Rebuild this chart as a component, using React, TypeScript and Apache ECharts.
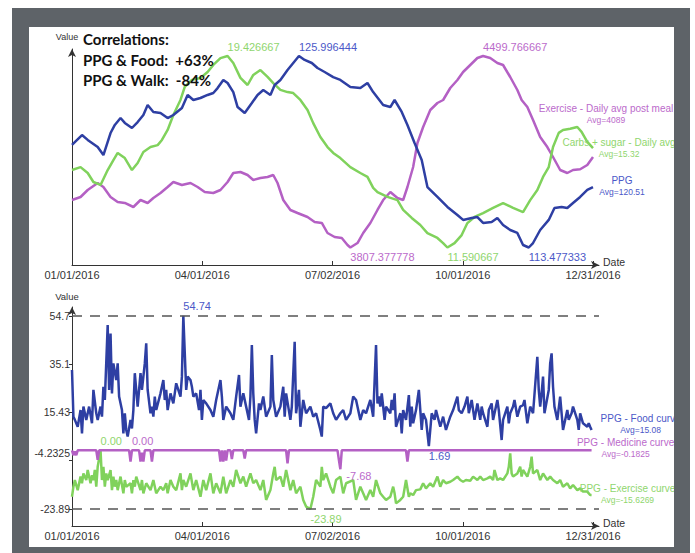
import React, { useEffect, useRef } from "react";
import * as echarts from "echarts";

// ---------- shared axis ticks ----------
const dateTickDays = [0, 91.25, 182.5, 273.75, 365];
const dateTickLabels = ["01/01/2016", "04/01/2016", "07/02/2016", "10/01/2016", "12/31/2016"];

const correlationLines = ["Correlations:", "PPG & Food:  +63%", "PPG & Walk:  -84%"];

// ---------- top chart: daily averages (day offset from 01/01/2016) ----------
const ppgDays = [0,7,11,18,22,27,30,34,37,42,46,50,53,57,62,67,71,77,81,85,90,95,99,102,106,109,113,116,121,126,130,134,139,142,146,151,155,159,163,168,172,177,183,188,195,202,207,211,218,223,226,231,235,240,245,249,256,263,270,274,280,284,288,294,298,302,307,312,316,320,323,328,334,338,343,347,351,356,361,365];
const ppgValues = [120.18,120.83,120.51,120.05,119.52,120.96,121.49,121.94,121.62,121.29,121.68,122.14,122.79,122.34,122.27,121.94,122.14,122.60,123.45,123.12,123.25,123.45,123.58,123.90,124.43,124.23,123.64,122.66,122.27,122.92,123.45,123.77,123.45,124.10,124.43,125.08,125.54,125.996444,125.74,125.54,125.21,124.95,124.62,124.43,123.97,123.90,124.23,123.64,122.79,122.66,123.12,122.34,121.49,120.31,119.20,117.43,116.78,116.13,115.60,115.28,115.41,115.47,115.08,115.15,115.41,114.95,114.62,114.43,113.64,113.477333,113.77,114.62,115.28,116.06,116.13,116.06,116.39,116.78,117.24,117.43];

const carbDays = [0,6,11,15,20,25,29,32,37,42,46,50,55,60,63,67,71,76,79,84,90,95,99,104,109,113,118,123,127,132,137,141,146,151,155,160,165,169,174,179,183,188,195,202,207,211,214,221,228,232,238,244,249,256,260,263,268,273,277,282,288,295,302,309,316,321,326,330,334,337,341,344,349,354,357,361,365];
const carbValues = [14.76,14.88,14.64,14.27,14.15,14.76,15.17,15.46,15.25,14.76,15.05,15.50,15.70,15.78,15.99,16.40,17.01,17.63,18.16,18.45,18.53,18.77,19.06,19.34,19.426667,19.14,18.53,18.24,18.65,18.85,18.57,18.32,18.04,17.95,17.91,17.63,17.22,16.68,16.11,15.70,15.46,15.25,14.88,14.64,14.48,14.03,13.86,13.66,13.53,13.13,12.80,12.51,12.18,11.98,11.77,11.590667,11.77,12.10,12.59,12.84,13.00,13.21,13.41,13.21,13.04,13.53,13.94,14.48,14.88,15.70,16.28,16.40,16.45,16.52,16.32,15.91,15.66];

const walkDays = [0,6,11,18,22,27,32,37,43,48,53,57,62,67,71,77,83,88,93,99,104,109,113,118,123,127,132,137,141,144,148,153,158,165,170,175,179,184,189,193,195,200,204,209,214,218,223,228,232,235,239,242,246,251,256,260,265,270,274,279,284,288,293,298,302,307,312,315,319,323,328,333,337,342,347,351,356,361,365];
const walkValues = [3979.1,3990.0,4015.3,4040.6,4026.1,3990.0,3971.9,3968.3,3953.8,3979.1,3968.3,3986.3,4004.4,4026.1,4044.2,4033.3,4040.6,4026.1,4008.0,4004.4,4015.3,4044.2,4076.7,4080.4,4069.5,4051.4,4058.7,4062.3,4069.5,4040.6,3979.1,3943.0,3932.1,3917.6,3899.6,3896.0,3859.8,3845.3,3841.7,3816.4,3807.377778,3823.6,3859.8,3896.0,3943.0,3979.1,4008.0,3986.3,3979.1,4026.1,4098.4,4185.2,4243.1,4304.5,4329.8,4340.7,4384.1,4413.0,4441.9,4467.2,4492.5,4499.766667,4492.5,4474.5,4467.2,4423.8,4376.8,4340.7,4315.4,4268.4,4206.9,4170.7,4134.6,4087.6,4076.7,4087.6,4090.2,4105.7,4134.6];

const topNames = ["PPG", "Carbs + sugar - Daily avg", "Exercise - Daily avg post meal"];
const topAvgs = ["Avg=120.51", "Avg=15.32", "Avg=4089"];

// ---------- bottom chart: curves ----------
const foodDays = [0,1,2,4,6,7,8,10,12,14,15,17,18,20,21,22,23,25,26,27,28,29,31,32,33,35,36,37,38,39,41,42,43,44,45,46,48,49,50,51,52,53,55,56,57,58,59,62,64,65,66,67,69,71,73,76,77,78,80,81,83,84,85,87,89,90,91,92,94,97,99,101,104,105,106,108,111,113,115,117,118,120,122,124,125,126,127,128,129,131,132,134,136,139,140,141,143,146,148,149,150,153,154,156,157,159,160,162,164,167,169,171,174,175,176,178,181,183,185,188,190,192,195,197,199,202,204,206,209,211,213,214,215,216,217,219,220,223,224,225,226,227,230,231,232,234,236,237,238,239,241,243,245,246,248,250,252,254,255,258,260,262,265,267,270,271,273,275,277,278,280,282,284,286,287,288,291,292,294,295,298,299,301,302,305,306,307,309,310,312,314,316,317,319,321,323,326,327,328,329,330,331,334,335,336,337,338,340,342,343,344,347,348,350,351,354,355,356,358,361,362,363,364];
const foodValues = [32.7,13.7,12.4,9.6,16.4,6.9,17.8,12.4,17.8,11.0,24.6,15.1,12.4,17.8,13.7,25.9,20.5,51.0,24.6,47.6,23.2,35.4,28.6,35.4,21.9,16.4,6.9,15.1,8.3,5.6,12.4,8.9,16.4,31.4,24.6,17.8,31.4,24.6,30.0,35.4,43.6,24.6,15.1,17.8,13.7,21.9,16.4,23.2,28.6,20.5,24.6,16.4,23.2,19.1,27.3,21.9,30.0,54.74,24.6,30.0,28.6,25.9,21.9,23.2,16.4,24.6,12.4,20.5,19.1,16.4,13.7,20.5,28.6,21.9,12.4,17.8,15.1,12.4,21.9,30.7,17.8,23.2,17.8,12.4,21.9,42.9,23.2,12.4,6.9,19.1,16.4,21.9,13.7,17.8,38.8,20.5,13.7,17.8,25.9,13.7,23.2,12.4,17.8,44.2,15.1,24.6,9.6,20.5,15.1,17.8,13.7,15.1,8.3,5.6,17.8,17.2,19.1,15.1,12.4,15.1,16.4,12.4,15.1,21.9,20.5,12.4,16.4,15.1,20.5,13.7,42.9,19.1,21.9,17.8,23.2,12.4,17.8,15.1,20.5,16.4,23.2,9.6,15.1,6.9,16.4,12.4,22.5,9.6,17.8,11.0,16.4,24.6,8.3,15.1,12.4,1.69,15.1,12.4,16.4,9.6,13.7,8.3,13.7,16.4,21.9,16.4,15.1,17.8,21.9,15.1,20.5,12.4,19.1,12.4,17.8,15.1,9.6,16.4,19.1,12.4,20.5,16.4,4.2,12.4,17.8,11.0,15.1,17.8,20.5,13.7,17.8,18.4,20.5,11.0,17.8,15.1,38.1,24.6,17.8,23.2,30.0,15.1,24.6,35.4,39.5,25.9,17.8,12.4,21.9,15.1,8.3,16.4,12.4,15.1,17.8,12.4,8.3,15.1,11.0,9.6,11.0,9.6,8.3];

const medDays = [0,1,2,3,4,17,18,19,40,41,42,47,48,49,50,51,55,56,57,103,104,105,106,107,108,109,111,112,113,120,121,122,150,151,152,186,187,188,189,234,235,236,364];
const medValues = [0,-2.0,-0.5,-2.0,0,0,-3.9,0,0,-4.6,0,0,-4.6,-1.0,-4.6,0,0,-4.6,0,0,-4.6,0,-4.6,0,-4.2,0,0,-3.5,0,0,-3.3,0,0,-5.3,0,0,-4.0,-7.68,0,0,-4.6,0,0];

const exDays = [0,1,2,4,6,7,8,10,11,13,14,15,16,17,18,20,21,22,23,24,25,27,28,29,30,31,32,34,36,37,38,41,42,43,44,45,48,49,50,52,55,57,59,62,64,66,67,69,71,73,76,77,78,80,83,85,87,90,92,94,97,99,101,104,106,108,111,113,115,118,120,122,125,127,129,132,134,136,139,141,142,143,146,148,150,153,155,157,160,162,164,167,169,171,174,175,176,178,181,183,185,188,190,192,197,199,202,204,206,209,211,213,216,218,220,223,225,226,227,230,232,234,236,237,239,241,244,246,248,251,253,256,258,260,262,265,267,270,272,274,276,279,281,284,286,288,291,293,295,296,298,300,302,305,306,307,308,309,312,314,315,316,319,321,322,323,326,328,330,333,335,337,340,342,344,347,349,351,354,356,358,361,363,364];
const exValues = [-18.9,-14.8,-12.1,-16.2,-10.7,-13.4,-9.4,-12.1,-8.0,-13.4,-10.1,-12.1,-8.0,-14.8,-6.7,0,-12.1,-6.7,-14.8,-9.4,-12.1,-8.0,-16.2,-10.7,-14.8,-12.1,-16.2,-10.7,-17.5,-12.1,-14.8,-13.4,-17.5,-12.1,-14.8,-10.7,-16.2,-12.1,-17.5,-13.4,-16.2,-12.1,-17.5,-14.8,-16.2,-13.4,-17.5,-12.1,-14.8,-16.2,-9.4,-16.2,-12.1,-14.8,-9.4,-16.2,-12.1,-18.9,-12.1,-16.2,-9.4,-17.5,-13.4,-17.5,-10.7,-17.5,-12.1,-14.8,-8.0,-13.4,-10.7,-14.8,-9.4,-13.4,-12.1,-16.2,-12.1,-20.2,-16.2,-9.4,-6.7,-12.1,-10.7,-14.8,-8.0,-16.2,-12.1,-17.5,-14.8,-20.2,-22.9,-23.89,-18.9,-12.1,-14.8,-6.7,-12.1,-9.4,-14.8,-17.5,-12.1,-10.7,-17.5,-13.4,-12.1,-20.2,-14.8,-17.5,-20.2,-16.2,-18.9,-12.1,-17.5,-18.9,-20.2,-18.9,-14.8,-17.5,-21.6,-20.2,-18.9,-12.1,-18.9,-17.5,-18.2,-16.2,-15.9,-13.4,-15.5,-13.4,-14.8,-10.7,-14.8,-12.1,-13.4,-12.8,-12.1,-10.7,-12.1,-12.8,-12.1,-12.4,-10.7,-12.1,-10.7,-12.1,-11.4,-10.7,-12.1,-8.0,-12.1,-11.4,-12.1,-9.4,-6.7,-1.2,-9.4,-10.7,-9.4,-6.7,-10.7,-8.0,-10.7,-6.7,-2.6,-9.4,-8.0,-12.1,-9.4,-12.1,-10.7,-12.1,-13.4,-12.1,-14.8,-13.4,-15.5,-14.1,-16.2,-15.5,-16.8,-16.8,-18.2,-18.2];

const bottomNames = ["PPG - Food curve", "PPG - Medicine curve", "PPG - Exercise curve"];
const bottomAvgs = ["Avg=15.08", "Avg=-0.1825", "Avg=-15.6269"];
const valueTicks = [54.7, 35.1, 15.43, -4.2325, -23.89];

// ---------- styling ----------
const FONT = "Liberation Sans";
const BLUE = "#2e3fa3";
const PURPLE = "#b460c4";
const GREEN = "#80d25c";
const BLUE_TXT = "#4b58c8";
const PURPLE_TXT = "#bb6acb";
const GREEN_TXT = "#8fd66e";
const FRAME = "#5e6368";

const zip = (d: number[], v: number[]) => d.map((x, i) => [x, v[i]]);

// map series extremes to the same pixel band of the top grid (216px tall)
function fitAxis(vals: number[]) {
  const lo = Math.min(...vals);
  const hi = Math.max(...vals);
  const pp = (hi - lo) / 191.5;
  return { min: lo - 17.5 * pp, max: lo + 198.5 * pp };
}

const xMax = (365 * 527) / 521;

function dateAxis(gridIndex: number) {
  return {
    type: "value",
    gridIndex,
    min: 0,
    max: xMax,
    name: "{d|Date}",
    nameLocation: "end",
    nameGap: 4,
    nameMoveOverlap: false,
    nameTextStyle: {
      fontSize: 10.5,
      color: "#333",
      fontFamily: FONT,
      rich: { d: { fontSize: 10.5, color: "#333", fontFamily: FONT, padding: [0, 0, 7, 0] } },
    },
    axisLine: {
      show: true,
      onZero: false,
      symbol: ["none", "arrow"],
      symbolSize: [6, 8],
      lineStyle: { color: "#333", width: 1 },
    },
    axisTick: {
      show: true,
      inside: true,
      length: 4,
      customValues: dateTickDays,
      lineStyle: { color: "#333" },
    },
    axisLabel: {
      customValues: dateTickDays,
      formatter: (v: number) => dateTickLabels[Math.round(v / 91.25)],
      fontSize: 11,
      color: "#333",
      fontFamily: FONT,
      margin: 4,
    },
    splitLine: { show: false },
  };
}

function endLabel(name: string, avg: string, color: string, offset: number[]) {
  return {
    show: true,
    distance: 5,
    align: "center",
    offset,
    formatter: `{a|${name}}\n{b|${avg}}`,
    rich: {
      a: { fontSize: 10, color, fontFamily: FONT, lineHeight: 12, align: "center" },
      b: { fontSize: 8.5, color, fontFamily: FONT, lineHeight: 11, align: "center" },
    },
  };
}

function markPoints(color: string, fmt: (v: number) => string, items: any[]) {
  return {
    symbol: "circle",
    symbolSize: 2,
    itemStyle: { color: "rgba(0,0,0,0)" },
    label: {
      show: true,
      fontSize: 11,
      color,
      fontFamily: FONT,
      align: "left",
      distance: 3,
      formatter: (p: any) => fmt(Number(p.value)),
    },
    data: items,
  };
}

const rawFmt = (v: number) => String(v);
const fix2 = (v: number) => v.toFixed(2);

export default function App() {
  const ref = useRef<HTMLDivElement>(null);

  useEffect(() => {
    if (!ref.current) return;
    const chart = echarts.init(ref.current, null, { renderer: "svg" });

    const ppgAxis = fitAxis(ppgValues);
    const carbAxis = fitAxis(carbValues);
    const walkAxis = fitAxis(walkValues);

    const option: any = {
      animation: false,
      backgroundColor: "#ffffff",
      textStyle: { fontFamily: FONT },
      grid: [
        { left: 72, top: 49, width: 527, height: 216 },
        { left: 72, top: 307, width: 527, height: 219 },
      ],
      xAxis: [dateAxis(0), dateAxis(1)],
      yAxis: [
        {
          type: "value",
          gridIndex: 0,
          position: "left",
          min: ppgAxis.min,
          max: ppgAxis.max,
          name: "Value",
          nameLocation: "end",
          nameGap: 8,
          nameTextStyle: { fontSize: 9, color: "#333", fontFamily: FONT, padding: [0, 10, 0, 0] },
          axisLine: {
            show: true,
            onZero: false,
            symbol: ["none", "arrow"],
            symbolSize: [6, 8],
            lineStyle: { color: "#333", width: 1 },
          },
          axisTick: { show: false },
          axisLabel: { show: false },
          splitLine: { show: false },
        },
        { type: "value", gridIndex: 0, show: false, min: carbAxis.min, max: carbAxis.max, splitLine: { show: false } },
        { type: "value", gridIndex: 0, show: false, min: walkAxis.min, max: walkAxis.max, splitLine: { show: false } },
        {
          type: "value",
          gridIndex: 1,
          min: -30.81,
          max: 58.36,
          name: "Value",
          nameLocation: "end",
          nameGap: 6,
          nameTextStyle: { fontSize: 9.5, color: "#333", fontFamily: FONT, padding: [0, 10, 0, 0] },
          axisLine: {
            show: true,
            onZero: false,
            symbol: ["none", "arrow"],
            symbolSize: [6, 8],
            lineStyle: { color: "#333", width: 1 },
          },
          axisTick: { show: true, length: 3, customValues: valueTicks, lineStyle: { color: "#333" } },
          axisLabel: {
            customValues: valueTicks,
            fontSize: 10.5,
            color: "#333",
            fontFamily: FONT,
            margin: 2,
            formatter: (v: number) => (Math.abs(v + 4.2325) < 1e-6 ? "{up|-4.2325}" : String(v)),
            rich: { up: { fontSize: 10.5, color: "#333", fontFamily: FONT, padding: [0, 0, 16, 0] } },
          },
          splitLine: { show: false },
        },
      ],
      series: [
        // ---- top chart ----
        {
          type: "line",
          name: topNames[2],
          xAxisIndex: 0,
          yAxisIndex: 2,
          data: zip(walkDays, walkValues),
          showSymbol: false,
          lineStyle: { color: PURPLE, width: 2.5 },
          itemStyle: { color: PURPLE },
          endLabel: endLabel(topNames[2], topAvgs[2], PURPLE_TXT, [8, -43]),
          markPoint: markPoints(PURPLE_TXT, rawFmt, [
            { type: "max", valueDim: "y", label: { position: "top" } },
            { type: "min", valueDim: "y", label: { position: "bottom" } },
          ]),
          z: 2,
        },
        {
          type: "line",
          name: topNames[1],
          xAxisIndex: 0,
          yAxisIndex: 1,
          data: zip(carbDays, carbValues),
          showSymbol: false,
          lineStyle: { color: GREEN, width: 2.5 },
          itemStyle: { color: GREEN },
          endLabel: endLabel(topNames[1], topAvgs[1], GREEN_TXT, [21, 0]),
          markPoint: markPoints(GREEN_TXT, rawFmt, [
            { type: "max", valueDim: "y", label: { position: "top" } },
            { type: "min", valueDim: "y", label: { position: "bottom" } },
          ]),
          z: 3,
        },
        {
          type: "line",
          name: topNames[0],
          xAxisIndex: 0,
          yAxisIndex: 0,
          data: zip(ppgDays, ppgValues),
          showSymbol: false,
          lineStyle: { color: BLUE, width: 2.5 },
          itemStyle: { color: BLUE },
          endLabel: endLabel(topNames[0], topAvgs[0], BLUE_TXT, [24, -1]),
          markPoint: markPoints(BLUE_TXT, rawFmt, [
            { type: "max", valueDim: "y", label: { position: "top" } },
            { type: "min", valueDim: "y", label: { position: "bottom" } },
          ]),
          z: 4,
        },
        // ---- bottom chart ----
        {
          type: "line",
          name: bottomNames[2],
          xAxisIndex: 1,
          yAxisIndex: 3,
          data: zip(exDays, exValues),
          showSymbol: false,
          lineStyle: { color: GREEN, width: 2.5 },
          itemStyle: { color: GREEN },
          endLabel: endLabel(bottomNames[2], bottomAvgs[2], GREEN_TXT, [31, -1]),
          markPoint: markPoints(GREEN_TXT, fix2, [
            { type: "max", valueDim: "y", label: { position: "top" } },
            { type: "min", valueDim: "y", label: { position: "bottom" } },
          ]),
          markLine: {
            silent: true,
            symbol: ["none", "none"],
            label: { show: false },
            lineStyle: { color: "#555", width: 1.5, type: [10, 8] },
            data: [{ type: "min", valueDim: "y" }],
          },
          z: 2,
        },
        {
          type: "line",
          name: bottomNames[1],
          xAxisIndex: 1,
          yAxisIndex: 3,
          data: zip(medDays, medValues),
          showSymbol: false,
          lineStyle: { color: PURPLE, width: 2.5 },
          itemStyle: { color: PURPLE },
          endLabel: endLabel(bottomNames[1], bottomAvgs[1], PURPLE_TXT, [29, -2]),
          markPoint: markPoints(PURPLE_TXT, fix2, [
            { coord: [medDays[10], medValues[10]], value: medValues[10], label: { position: "top" } },
            { type: "min", valueDim: "y", label: { position: "right", offset: [2, 7] } },
          ]),
          z: 3,
        },
        {
          type: "line",
          name: bottomNames[0],
          xAxisIndex: 1,
          yAxisIndex: 3,
          data: zip(foodDays, foodValues),
          showSymbol: false,
          lineStyle: { color: BLUE, width: 2.5 },
          itemStyle: { color: BLUE },
          endLabel: endLabel(bottomNames[0], bottomAvgs[0], BLUE_TXT, [44, -6]),
          markPoint: markPoints(BLUE_TXT, fix2, [
            { type: "max", valueDim: "y", label: { position: "top" } },
            { type: "min", valueDim: "y", label: { position: "bottom" } },
          ]),
          markLine: {
            silent: true,
            symbol: ["none", "none"],
            label: { show: false },
            lineStyle: { color: "#555", width: 1.5, type: [10, 8] },
            data: [{ type: "max", valueDim: "y" }],
          },
          z: 4,
        },
      ],
      graphic: [
        ...correlationLines.map((t, i) => ({
          type: "text",
          x: 83,
          y: 39 + i * 20.5,
          z: 50,
          style: {
            text: t,
            fill: "#111",
            fontSize: 15,
            fontWeight: "bold",
            fontFamily: "Lato",
            verticalAlign: "middle",
          },
        })),
        { type: "rect", z: 100, shape: { x: 12, y: 8, width: 678, height: 19 }, style: { fill: FRAME } },
        { type: "rect", z: 100, shape: { x: 12, y: 547, width: 678, height: 6 }, style: { fill: FRAME } },
        { type: "rect", z: 100, shape: { x: 12, y: 8, width: 17, height: 545 }, style: { fill: FRAME } },
        { type: "rect", z: 100, shape: { x: 674, y: 8, width: 16, height: 545 }, style: { fill: FRAME } },
      ],
    };

    chart.setOption(option);
    return () => chart.dispose();
  }, []);

  return (
    <div
      ref={ref}
      style={{ position: "fixed", left: 0, top: 0, width: 695, height: 553, background: "#fff" }}
    />
  );
}
